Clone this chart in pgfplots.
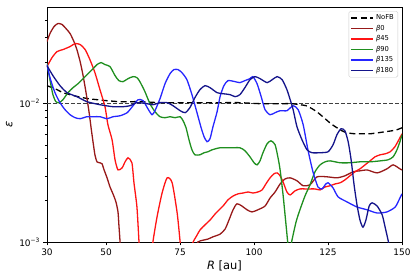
\documentclass[border=0pt]{standalone}
\usepackage{fontspec}
\setmainfont{DejaVu Sans}
\usepackage{pgfplots}
\pgfplotsset{compat=1.18}
\definecolor{mdarkred}{HTML}{8B0000}
\definecolor{mgreen}{HTML}{008000}
\definecolor{mnavy}{HTML}{000080}
\begin{document}
\begin{tikzpicture}
\begin{axis}[
  scale only axis, width=355bp, height=235bp,
  xmin=30, xmax=150, ymin=0.001, ymax=0.05,
  ymode=log,
  xtick={30,50,75,100,125,150},
  ytick={0.001,0.01},
  yticklabels={10\textsuperscript{−3},10\textsuperscript{−2}},
  minor ytick={0.002,0.003,0.004,0.005,0.006,0.007,0.008,0.009,0.02,0.03,0.04},
  xtick pos=left, ytick pos=left,
  tick align=outside,
  major tick length=3.5bp, minor tick length=2bp,
  every tick/.style={black, line width=0.6bp},
  axis line style={black, line width=0.7bp},
  /pgf/number format/assume math mode=true,
  ticklabel style={font=\fontsize{9}{10}\selectfont},
  xlabel={\textit{R} [au]},
  ylabel={\textit{ε}},
  xlabel style={yshift=2bp},
  label style={font=\fontsize{11.5}{12}\selectfont},
  legend style={at={(1,1)}, anchor=north east, xshift=-4bp, yshift=-4bp,
    draw=black!20, rounded corners=1.5bp, fill=white,
    font=\fontsize{6.8}{7}\selectfont,
    nodes={text height=5bp, text depth=1.5bp, inner sep=2bp},
    inner xsep=2bp, inner ysep=1.5bp},
  legend cell align=left,
  legend image code/.code={\draw[#1, line width=1.2bp] (0bp,0bp) -- (22bp,0bp);},
  every axis plot/.append style={line width=1.3bp, smooth, tension=0.4},
]
% reference line at 1e-2
\addplot[forget plot, black!75, line width=1.3bp, dash pattern=on 4bp off 2bp, sharp plot] coordinates {(30,0.01) (150,0.01)};
% NoFB
\addplot[black, dash pattern=on 6bp off 3.5bp] coordinates {
(30,0.0135) (31.7,0.01306) (33.4,0.01263) (35.4,0.01201) (37.8,0.01162) (40.5,0.01124)
(43.9,0.01087) (46.9,0.01069) (50.3,0.01051) (54.7,0.01034) (61.4,0.01034) (68.2,0.01017)
(75.0,0.01017) (81.7,0.01017) (88.5,0.01017) (95.2,0.01017) (102.0,0.0100) (108.8,0.0100)
(112.8,0.0100) (115.5,0.00983) (117.6,0.00967) (119.6,0.0092) (121.6,0.00861) (124.0,0.00779)
(126.0,0.00716) (128.0,0.0067) (129.7,0.00637) (131.4,0.00616) (134.1,0.00606) (136.5,0.00606)
(139.2,0.00606) (141.9,0.00616) (144.3,0.00627) (146.6,0.00637) (148.3,0.00648) (150,0.0067)
};
\addlegendentry{NoFB}
% beta0
\addplot[mdarkred!90!white] coordinates {
(30,0.02813) (31.0,0.03216) (32.4,0.03614) (33.7,0.0380) (35.1,0.03737) (36.4,0.03495)
(37.8,0.03216) (39.1,0.02813) (40.1,0.02462) (41.2,0.02016) (42.2,0.01596) (43.2,0.01201)
(44.2,0.00875) (44.9,0.0067) (45.6,0.00522) (46.2,0.00427) (46.9,0.0038) (47.9,0.00374)
(48.6,0.00368) (49.3,0.00332) (50.3,0.00291) (51.3,0.0025) (52.3,0.00223) (53.3,0.00195)
(54.0,0.00165) (54.3,0.00133) (54.7,0.001) (55.0,0.00074)
(79.4,0.000875) (81.0,0.001) (82.7,0.00103) (84.4,0.00105) (86.1,0.00109) (88.5,0.00114)
(90.2,0.00124) (91.5,0.00144) (92.9,0.00171) (94.2,0.00189) (95.9,0.00182) (97.6,0.00171)
(99.3,0.00165) (101.3,0.00171) (103.7,0.00182) (105.4,0.00208) (107.1,0.0023) (108.8,0.00263)
(110.5,0.00286) (112.2,0.00291) (114.5,0.00277) (116.6,0.00255) (118.9,0.00259) (121.3,0.00296)
(124.7,0.00296) (128.0,0.00291) (130.7,0.00301) (133.5,0.00322) (135.8,0.00327) (138.2,0.00332)
(141.6,0.00316) (144.9,0.00338) (147.0,0.00361) (149.3,0.00338) (150,0.00332)
};
\addlegendentry{\textit{β}0}
% beta45
\addplot[red!92!white] coordinates {
(30,0.01854) (31.7,0.02154) (33.4,0.02381) (35.4,0.02462) (37.8,0.02588) (39.5,0.02721)
(41.2,0.02676) (42.9,0.02462) (44.5,0.02084) (46.2,0.01677) (47.9,0.01263) (49.6,0.00951)
(50.6,0.00704) (52.0,0.00548) (53.0,0.00393) (54.0,0.00332) (55.4,0.00344) (56.4,0.0038)
(57.4,0.00406) (58.7,0.00374) (59.4,0.00268) (60.4,0.00179) (61.1,0.001) (61.4,0.0008)
(65.5,0.0008) (65.8,0.001) (67.2,0.00152) (68.9,0.00226) (70.6,0.00291) (72.3,0.00268)
(74.0,0.00162) (75.0,0.001) (75.3,0.0008)
(78.3,0.00085) (79.4,0.001) (80.7,0.00112) (81.7,0.00122) (83.4,0.00133) (85.1,0.00144)
(87.1,0.00162) (89.5,0.00182) (91.2,0.00202) (92.9,0.00215) (94.6,0.00223) (96.3,0.00226)
(98.0,0.0023) (99.6,0.00226) (101.3,0.0023) (102.7,0.00238) (104.0,0.00263) (105.4,0.00291)
(106.7,0.00311) (107.8,0.00316) (108.8,0.00301) (109.8,0.00272) (111.1,0.0023) (112.2,0.00219)
(113.8,0.00234) (115.5,0.00242) (117.2,0.00242) (118.9,0.00242) (120.6,0.00242) (122.3,0.00238)
(124.0,0.0025) (125.7,0.00255) (127.4,0.00263) (129.1,0.00268) (130.7,0.00281) (132.4,0.00301)
(134.1,0.00322) (135.8,0.00338) (137.5,0.00361) (139.2,0.00386) (140.9,0.00413) (142.6,0.00427)
(144.3,0.00434) (146.0,0.00449) (147.6,0.00488) (149.3,0.00567) (150,0.00606)
};
\addlegendentry{\textit{β}45}
% beta90
\addplot[mgreen!88!white] coordinates {
(30,0.0195) (31.0,0.0149) (32.0,0.01162) (33.0,0.01034) (34.1,0.01017) (35.4,0.01069)
(37.1,0.01201) (38.8,0.01306) (40.5,0.01396) (42.2,0.01518) (43.9,0.0165) (45.6,0.01793)
(46.9,0.01917) (48.3,0.01982) (49.6,0.01917) (51.3,0.01854) (53.0,0.01596) (54.3,0.01468)
(55.7,0.01443) (57.4,0.01518) (59.1,0.01569) (60.4,0.01543) (61.4,0.01443) (63.1,0.01222)
(64.8,0.0100) (66.5,0.00875) (68.2,0.00805) (69.9,0.00792) (71.6,0.00805) (73.3,0.00792)
(75.0,0.00805) (76.0,0.00753) (77.0,0.0067) (78.0,0.00548) (79.0,0.00464) (80.0,0.00427)
(81.7,0.00427) (83.1,0.00442) (84.4,0.00449) (85.8,0.00464) (88.5,0.0048) (91.9,0.0048)
(95.2,0.0048) (96.9,0.00457) (98.6,0.00413) (100.0,0.00374) (101.0,0.00361) (102.0,0.00386)
(103.0,0.00442) (104.4,0.00513) (105.7,0.00539) (107.1,0.00505) (108.1,0.00406) (108.8,0.00332)
(109.8,0.00219) (110.8,0.00133) (111.5,0.00095) (112.2,0.00088) (112.8,0.00103) (114.2,0.0014)
(115.5,0.00171) (117.2,0.00215) (118.9,0.00259) (120.6,0.00322) (122.3,0.00361) (124.0,0.0038)
(125.7,0.00386) (129.1,0.00374) (132.4,0.00374) (135.8,0.0038) (139.2,0.0038) (142.6,0.00386)
(145.3,0.00393) (147.0,0.00413) (148.3,0.00464) (149.3,0.00531) (150,0.00596)
};
\addlegendentry{\textit{β}90}
% beta135
\addplot[blue!85!white] coordinates {
(30,0.01917) (31.0,0.01543) (32.7,0.01201) (34.4,0.01017) (36.1,0.00905) (37.8,0.00832)
(39.5,0.00792) (41.2,0.00779) (43.5,0.00805) (45.6,0.00805) (47.9,0.00805) (50.3,0.00779)
(52.3,0.00805) (54.7,0.00818) (57.1,0.00861) (59.1,0.00967) (60.8,0.01069) (62.5,0.01051)
(64.1,0.0092) (65.5,0.00832) (66.5,0.0089) (68.2,0.01087) (69.9,0.01396) (71.6,0.0165)
(72.9,0.01763) (74.3,0.01763) (75.6,0.01677) (77.3,0.0149) (79.0,0.01162) (80.7,0.00861)
(82.1,0.0067) (83.1,0.00577) (84.1,0.00531) (85.1,0.00558) (86.1,0.00681) (87.5,0.00875)
(88.5,0.01124) (89.8,0.0135) (91.2,0.01468) (93.6,0.01443) (95.2,0.0142) (96.9,0.01468)
(98.6,0.01518) (99.6,0.01569) (101.0,0.01396) (102.4,0.01124) (103.7,0.00905) (105.4,0.00832)
(107.1,0.00861) (108.8,0.0089) (111.1,0.0089) (113.2,0.00967) (114.9,0.00905) (116.6,0.00704)
(118.2,0.00464) (119.9,0.00322) (121.6,0.0025) (123.0,0.00242) (124.0,0.00259) (125.0,0.00268)
(126.7,0.00246) (128.4,0.00212) (131.4,0.00195) (134.8,0.00179) (138.2,0.00171) (141.6,0.00162)
(144.9,0.00165) (147.7,0.00179) (149.3,0.00208) (150,0.00223)
};
\addlegendentry{\textit{β}135}
% beta180
\addplot[mnavy!92!white] coordinates {
(30,0.01885) (32.0,0.01596) (34.4,0.0135) (36.8,0.01201) (40.1,0.01124) (43.5,0.01034)
(47.9,0.00983) (52.3,0.00951) (55.7,0.00951) (58.1,0.00967) (60.4,0.01017) (63.8,0.0100)
(65.8,0.00983) (68.2,0.01017) (70.6,0.01017) (72.6,0.00967) (75.0,0.0089) (76.7,0.00861)
(78.3,0.00935) (80.0,0.01105) (81.7,0.01263) (83.4,0.0135) (85.1,0.01306) (87.5,0.01201)
(89.5,0.01181) (91.9,0.01162) (93.6,0.01124) (95.2,0.01162) (96.9,0.01306) (98.6,0.0149)
(100.3,0.01569) (102.0,0.01518) (104.4,0.0142) (106.1,0.0149) (107.8,0.01569) (109.5,0.0149)
(111.1,0.01263) (112.2,0.01069) (113.2,0.00905) (114.5,0.00681) (116.2,0.00548) (117.9,0.00464)
(119.6,0.00442) (122.3,0.00442) (125.0,0.00449) (126.7,0.00505) (128.0,0.00596) (129.4,0.00659)
(130.7,0.00637) (131.8,0.00531) (132.8,0.00393) (133.8,0.00259) (134.8,0.00185) (135.8,0.00144)
(136.8,0.00128) (137.8,0.00144) (138.9,0.00182) (139.9,0.00192) (141.6,0.00182) (143.3,0.00157)
(144.3,0.00128) (145.3,0.00103) (146.0,0.000875)
};
\addlegendentry{\textit{β}180}
\end{axis}
\pgfresetboundingbox
\path[use as bounding box] ([shift={(-47bp,-34bp)}]current axis.south west) rectangle ([shift={(14bp,7bp)}]current axis.north east);
\end{tikzpicture}
\end{document}
